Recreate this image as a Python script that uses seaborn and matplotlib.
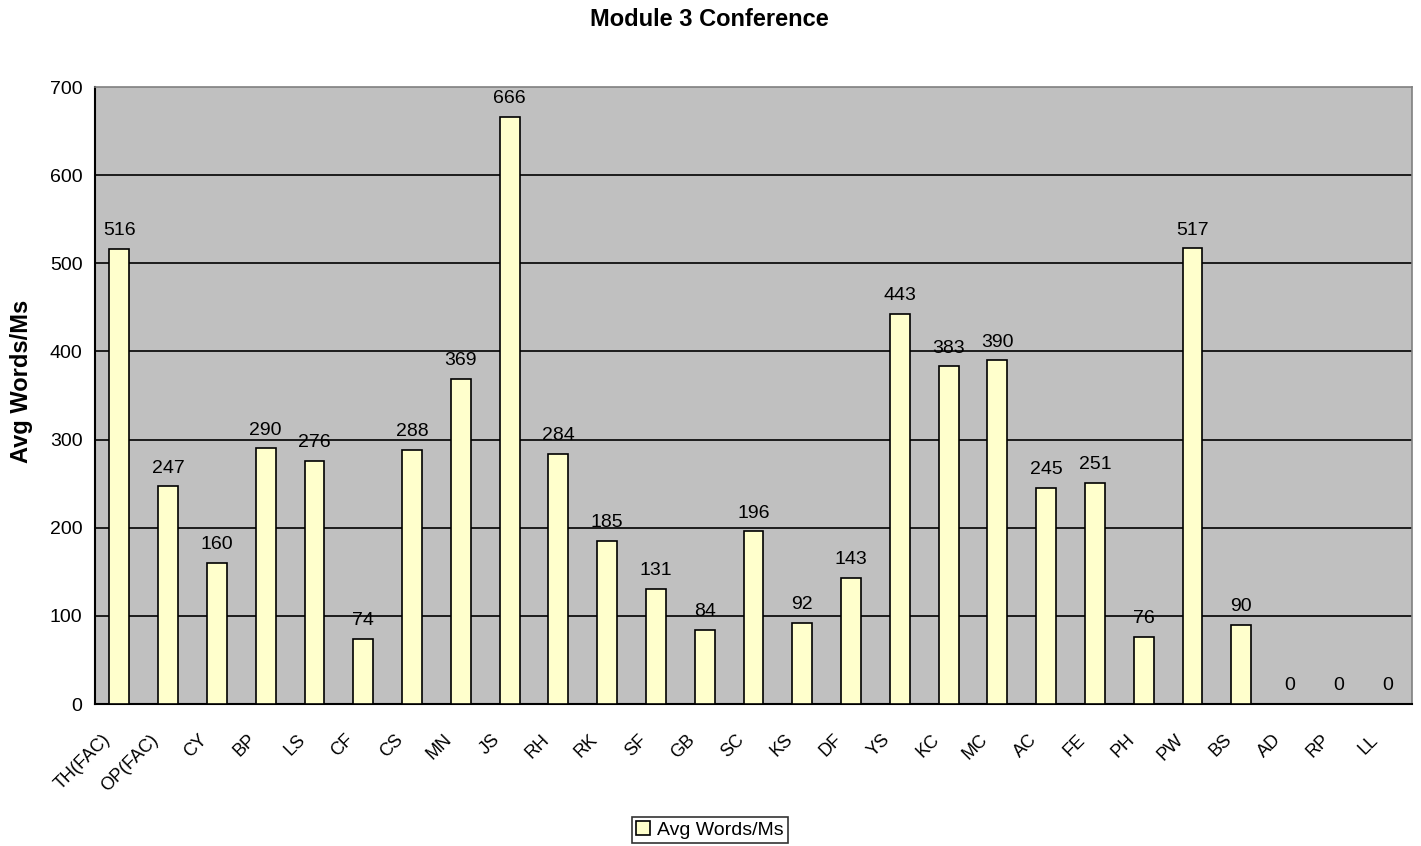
import matplotlib
matplotlib.use("Agg")
import matplotlib.pyplot as plt
from matplotlib.transforms import ScaledTranslation
import seaborn as sns
import numpy as np
import pandas as pd

categories = ["TH(FAC)", "OP(FAC)", "CY", "BP", "LS", "CF", "CS", "MN", "JS", "RH",
              "RK", "SF", "GB", "SC", "KS", "DF", "YS", "KC", "MC", "AC", "FE", "PH",
              "PW", "BS", "AD", "RP", "LL"]
values = [516, 247, 160, 290, 276, 74, 288, 369, 666, 284, 185, 131, 84, 196, 92, 143,
          443, 383, 390, 245, 251, 76, 517, 90, 0, 0, 0]
series_name = "Avg Words/Ms"
title = "Module 3 Conference"
yticks = [0, 100, 200, 300, 400, 500, 600, 700]

sns.set_style("white")
plt.rcParams['font.family'] = ['Liberation Sans', 'DejaVu Sans']
plt.rcParams['text.color'] = 'black'
plt.rcParams['xtick.color'] = 'black'
plt.rcParams['ytick.color'] = 'black'
plt.rcParams['axes.labelcolor'] = 'black'

df = pd.DataFrame({"cat": categories, "val": values})

fig = plt.figure(figsize=(14.21, 8.46), dpi=100)
ax = fig.add_axes([95/1421, 1-704/846, (1412-95)/1421, (704-87)/846])
ax.set_facecolor("#C0C0C0")

sns.barplot(data=df, x="cat", y="val", color="#FFFFCC", width=0.41,
            edgecolor="black", linewidth=1.2, saturation=1, ax=ax,
            label=series_name, zorder=3)

for i, v in enumerate(values):
    ax.text(i, v + 11, f"{v}", ha="center", va="bottom", fontsize=14, zorder=4)

ax.set_ylim(0, 700)
ax.set_xlim(-0.5, len(categories) - 0.5)
ax.set_yticks(yticks)
ax.set_yticklabels([str(t) for t in yticks], fontsize=14)
for t in yticks[1:-1]:
    ax.axhline(t, color="black", linewidth=1.2, zorder=1)

ax.set_xticks(range(len(categories)))
ax.set_xticklabels(categories, rotation=45, ha="right", va="center",
                   rotation_mode="anchor", fontsize=13)
ax.tick_params(axis="x", which="major", length=0, pad=24)
shift = ScaledTranslation(-12/100, 0, fig.dpi_scale_trans)
for lab in ax.get_xticklabels():
    lab.set_transform(lab.get_transform() + shift)
ax.set_xticks(np.arange(-0.5, len(categories), 1), minor=True)
ax.tick_params(axis="x", which="minor", length=4, width=1.2, color="black", direction="out")
ax.tick_params(axis="y", length=4, width=1.2, color="black", direction="out", pad=5)

for s in ["left", "bottom"]:
    ax.spines[s].set_color("black")
    ax.spines[s].set_linewidth(1.5)
for s in ["top", "right"]:
    ax.spines[s].set_color("#808080")
    ax.spines[s].set_linewidth(1.2)

ax.set_xlabel("")
ax.set_ylabel("")
fig.text(22/1421, 1-381/846, "Avg Words/Ms", rotation=90, ha="center", va="center",
         fontsize=17, fontweight="bold")

fig.text(709/1421, 1-19/846, title, ha="center", va="center", fontsize=17, fontweight="bold")

leg = ax.legend(loc="center", bbox_to_anchor=(710/1421, 1-830/846), bbox_transform=fig.transFigure,
                frameon=True, fancybox=False, fontsize=14, handlelength=0.7, handleheight=0.7,
                handletextpad=0.4, borderpad=0.2, borderaxespad=0)
leg.get_frame().set_edgecolor("black")
leg.get_frame().set_linewidth(1.2)

fig.savefig("out.png", dpi=100)
